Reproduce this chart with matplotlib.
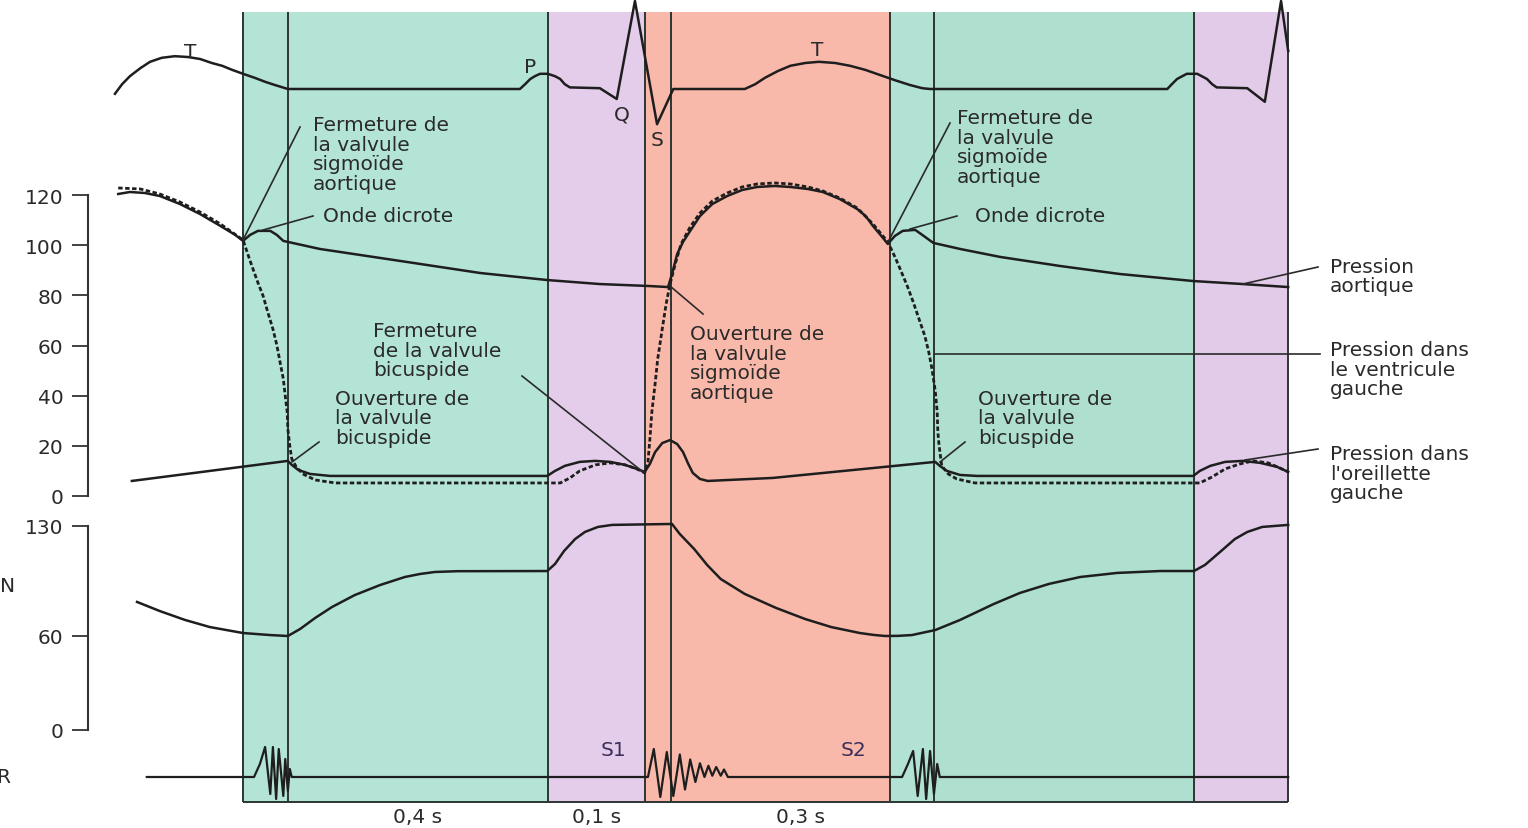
import numpy as np
import matplotlib.pyplot as plt

W, H, DPI = 1528, 829, 100
PX_PER_S = 650.0      # horizontal scale of the time axis
T0_PX = 243.0         # where t = 0 sits

# cardiac phases (s) and their fill colours
phase_edges = [0.0, 0.069, 0.469, 0.618, 0.658, 0.995, 1.063, 1.463, 1.608]
phase_colors = ["#b4e4d6", "#b4e4d6", "#e4cdea", "#f9b9aa", "#f9b9aa",
                "#b1e2d3", "#aedfcf", "#e2cbe9"]

# ECG (mV)
ecg_t = [-0.197, -0.186, -0.174, -0.158, -0.143, -0.125, -0.105, -0.085, -0.066,
         -0.048, -0.032, -0.017, 0.0, 0.018, 0.034, 0.049, 0.065, 0.069,
         0.426, 0.434, 0.442, 0.449, 0.457, 0.469, 0.480, 0.488, 0.495, 0.503,
         0.549, 0.575, 0.603, 0.637, 0.662,
         0.772, 0.788, 0.803, 0.823, 0.842, 0.865, 0.886, 0.911, 0.934, 0.957,
         0.980, 1.003, 1.026, 1.045, 1.057,
         1.422, 1.429, 1.437, 1.445, 1.452, 1.468, 1.475, 1.483, 1.491, 1.498,
         1.545, 1.572, 1.597, 1.608]
ecg_mv = [-0.06, 0.06, 0.16, 0.26, 0.34, 0.39, 0.41, 0.40, 0.375,
          0.325, 0.29, 0.24, 0.19, 0.14, 0.09, 0.05, 0.01, 0.0,
          0.0, 0.06, 0.125, 0.16, 0.19, 0.19, 0.16, 0.125, 0.06, 0.02,
          0.01, -0.125, 1.1, -0.44, 0.0,
          0.0, 0.06, 0.14, 0.225, 0.29, 0.325, 0.34, 0.325, 0.29, 0.24,
          0.175, 0.11, 0.05, 0.01, 0.0,
          0.0, 0.06, 0.125, 0.16, 0.19, 0.19, 0.16, 0.125, 0.06, 0.02,
          0.01, -0.16, 1.1, 0.475]

# aortic pressure (mmHg)
aorta_t = [-0.192, -0.174, -0.151, -0.128, -0.097, -0.066, -0.035, -0.012, 0.0,
           0.011, 0.023, 0.042, 0.052, 0.062, 0.118, 0.242, 0.365, 0.468, 0.549, 0.626, 0.654,
           0.660, 0.668, 0.677, 0.688, 0.703, 0.722, 0.745, 0.768, 0.791, 0.818, 0.842,
           0.869, 0.892, 0.918, 0.945, 0.958, 0.969, 0.982, 0.992,
           1.003, 1.015, 1.034, 1.045, 1.062, 1.103, 1.165, 1.257, 1.349, 1.462, 1.538, 1.608]
aorta_p = [120.4, 121.2, 120.8, 119.6, 116.4, 112.4, 107.7, 104.1, 101.7,
           104.1, 105.7, 105.7, 104.1, 101.7, 98.5, 93.7, 88.9, 86.1, 84.5, 83.7, 83.3,
           88.5, 96.5, 101.3, 105.7, 111.6, 116.4, 119.6, 122.0, 123.2, 123.6, 123.2,
           122.4, 121.2, 118.4, 114.4, 111.6, 107.7, 103.7, 100.5,
           103.7, 105.7, 106.1, 104.1, 100.9, 98.5, 95.3, 91.7, 88.5, 85.7, 84.5, 83.3]

# left ventricular pressure (mmHg)
lv_t = [-0.192, -0.158, -0.128, -0.097, -0.066, -0.035, 0.0,
        0.011, 0.022, 0.031, 0.038, 0.046, 0.052, 0.057, 0.062, 0.065, 0.068, 0.069,
        0.072, 0.075, 0.082, 0.092, 0.111, 0.142, 0.488, 0.503, 0.518, 0.542, 0.565,
        0.588, 0.606, 0.618, 0.623, 0.626, 0.629, 0.634, 0.638, 0.645, 0.651, 0.657,
        0.665, 0.674, 0.688, 0.703, 0.722, 0.745, 0.768, 0.791, 0.818, 0.842, 0.869,
        0.892, 0.918, 0.945, 0.969, 0.992, 1.003, 1.011, 1.022, 1.031, 1.040, 1.049,
        1.055, 1.060, 1.065, 1.068, 1.069, 1.071, 1.075, 1.085, 1.098, 1.126, 1.472,
        1.491, 1.511, 1.534, 1.554, 1.577, 1.595, 1.608]
lv_p = [122.8, 122.4, 120.4, 117.2, 113.2, 108.5, 102.1,
        93.7, 85.7, 79.7, 73.4, 66.6, 60.2, 53.4, 46.7, 39.9, 33.5, 26.7,
        19.9, 14.8, 11.6, 8.8, 6.4, 5.2, 5.2, 7.2, 10.0, 12.4, 13.2,
        12.4, 10.8, 9.2, 13.6, 22.7, 33.5, 44.7, 54.6, 66.6, 76.6, 84.5,
        92.5, 100.5, 107.3, 112.8, 117.6, 120.8, 123.2, 124.4, 124.8, 124.4, 123.2,
        121.6, 118.8, 114.8, 108.5, 101.3, 95.3, 90.5, 83.7, 77.4, 70.6, 63.8,
        57.4, 50.6, 41.9, 33.5, 25.5, 19.9, 12.0, 8.8, 6.8, 5.2, 5.2,
        7.6, 10.8, 12.8, 14.0, 13.2, 11.2, 9.6]

# left atrial pressure (mmHg)
la_t = [-0.171, 0.069, 0.075, 0.085, 0.103, 0.134, 0.468, 0.480, 0.495, 0.518, 0.542,
        0.565, 0.588, 0.606, 0.618, 0.626, 0.634, 0.645, 0.657, 0.668, 0.677, 0.685,
        0.692, 0.703, 0.715, 0.815, 1.065, 1.072, 1.083, 1.103, 1.129, 1.462, 1.472,
        1.488, 1.511, 1.538, 1.565, 1.591, 1.608]
la_p = [6.0, 14.0, 12.4, 10.4, 8.8, 8.0, 8.0, 10.0, 12.0, 13.6, 14.0,
        13.6, 12.4, 10.8, 9.6, 12.8, 17.5, 21.1, 22.3, 20.7, 17.5, 12.8,
        9.2, 6.8, 6.0, 7.2, 13.6, 12.0, 10.0, 8.4, 8.0, 8.0, 10.0,
        12.0, 13.6, 14.0, 13.2, 11.6, 9.6]

# left ventricular volume (mL)
vol_t = [-0.163, -0.128, -0.089, -0.051, 0.0, 0.042, 0.069, 0.088, 0.111, 0.137, 0.172,
         0.211, 0.249, 0.272, 0.295, 0.330, 0.468, 0.480, 0.494, 0.511, 0.526, 0.546,
         0.568, 0.660, 0.672, 0.694, 0.714, 0.735, 0.772, 0.820, 0.865, 0.905, 0.949,
         0.970, 0.988, 1.008, 1.029, 1.065, 1.103, 1.155, 1.195, 1.240, 1.288, 1.345,
         1.411, 1.463, 1.480, 1.503, 1.526, 1.545, 1.568, 1.608]
vol_ml = [81.6, 75.8, 70.1, 65.6, 61.8, 60.5, 59.9, 64.4, 71.4, 78.4, 86.0,
          92.4, 97.5, 99.4, 100.7, 101.2, 101.3, 105.8, 114.1, 121.7, 126.2, 129.4,
          130.7, 131.3, 124.9, 115.4, 105.2, 96.2, 86.7, 77.8, 70.7, 65.6, 61.8,
          60.6, 59.9, 60.0, 60.5, 63.7, 70.1, 80.3, 87.3, 93.1, 97.5, 100.1,
          101.3, 101.3, 105.2, 113.4, 121.7, 126.2, 129.4, 130.7]

# phonocardiogram (arbitrary units)
pcg_t = [-0.148, 0.017, 0.026, 0.034, 0.042, 0.046, 0.051, 0.055, 0.062, 0.065, 0.069,
         0.072, 0.075,
         0.623, 0.632, 0.642, 0.652, 0.662, 0.672, 0.680, 0.688, 0.696, 0.703, 0.710,
         0.716, 0.722, 0.728, 0.735, 0.740, 0.746,
         1.014, 1.023, 1.031, 1.038, 1.046, 1.051, 1.057, 1.063, 1.068, 1.072, 1.608]
pcg_a = [0.0, 0.0, 0.52, 1.2, -0.68, 1.2, -0.88, 1.12, -0.76, 0.72, -0.56,
         0.32, 0.0,
         0.0, 1.12, -0.8, 1.0, -0.76, 0.9, -0.5, 0.7, -0.2, 0.55, 0.0,
         0.45, 0.05, 0.4, 0.05, 0.3, 0.0,
         0.0, 0.52, 1.04, -0.76, 1.12, -0.88, 1.04, -0.68, 0.52, 0.0, 0.0]

pressure_ticks = [0, 20, 40, 60, 80, 100, 120]
volume_ticks = [0, 60, 130]

INK = "#1e1e1e"
TXT = "#2a2a2a"
FS = 14.5

fig = plt.figure(figsize=(W / DPI, H / DPI), dpi=DPI)
fig.patch.set_facecolor("white")


def overlay(lo_px, lo_val, hi_px, hi_val):
    # full-figure transparent axes: lo_val lands on row lo_px, hi_val on row hi_px
    ax = fig.add_axes([0, 0, 1, 1])
    ax.set_xlim(-T0_PX / PX_PER_S, (W - T0_PX) / PX_PER_S)
    k = (lo_px - hi_px) / (hi_val - lo_val)
    ax.set_ylim(lo_val - (H - lo_px) / k, hi_val + hi_px / k)
    ax.patch.set_alpha(0)
    ax.axis("off")
    return ax


# phase bands
ax_bg = overlay(H, H, 0, 0)
top_px, bot_px = 13, 803
for t0, t1, c in zip(phase_edges[:-1], phase_edges[1:], phase_colors):
    ax_bg.axvspan(t0, t1, ymin=(H - bot_px) / H, ymax=(H - top_px) / H, color=c, lw=0)
ax_bg.vlines(phase_edges, top_px, bot_px, color="#2c3533", lw=1.4)
ax_bg.hlines(bot_px, phase_edges[0], phase_edges[-1], color="#2c3533", lw=1.4)

# ECG
ax_ecg = overlay(90, 0.0, 10, 1.0)
ax_ecg.plot(ecg_t, ecg_mv, color=INK, lw=1.8, solid_joinstyle="round")

# pressures
ax_p = overlay(497, 0.0, 196, 120.0)
ax_p.plot(lv_t, lv_p, color=INK, lw=2.0, linestyle=(0, (1.6, 0.9)))
ax_p.plot(aorta_t, aorta_p, color=INK, lw=1.8, solid_joinstyle="round")
ax_p.plot(la_t, la_p, color=INK, lw=1.8, solid_joinstyle="round")

# volume
ax_v = overlay(731, 0.0, 527, 130.0)
ax_v.plot(vol_t, vol_ml, color=INK, lw=1.8, solid_joinstyle="round")

# heart sounds
ax_s = overlay(778, 0.0, 753, 1.0)
ax_s.plot(pcg_t, pcg_a, color=INK, lw=1.6)


def scale_bar(top_px, bottom_px, lo, hi, ticks):
    ax = fig.add_axes([88 / W, (H - bottom_px) / H, 0.0001, (bottom_px - top_px) / H])
    ax.set_ylim(lo, hi)
    ax.set_yticks(ticks)
    ax.set_xticks([])
    for side in ("top", "right", "bottom"):
        ax.spines[side].set_visible(False)
    ax.spines["left"].set_linewidth(1.5)
    ax.spines["left"].set_color("#333333")
    ax.tick_params(axis="y", direction="out", length=11.5, width=1.3, pad=6,
                   labelsize=FS, colors="#333333", labelcolor=TXT)
    ax.patch.set_alpha(0)
    return ax


scale_bar(196, 497, 0, 120, pressure_ticks)
scale_bar(527, 731, 0, 130, volume_ticks)

# labels and leader lines (pixel layout)
ax_txt = fig.add_axes([0, 0, 1, 1])
ax_txt.set_xlim(0, W)
ax_txt.set_ylim(H, 0)
ax_txt.patch.set_alpha(0)
ax_txt.axis("off")

notes = [
    (313, 155, "Fermeture de\nla valvule\nsigmoïde\naortique"),
    (323, 216, "Onde dicrote"),
    (373, 351, "Fermeture\nde la valvule\nbicuspide"),
    (335, 419, "Ouverture de\nla valvule\nbicuspide"),
    (690, 364, "Ouverture de\nla valvule\nsigmoïde\naortique"),
    (957, 148, "Fermeture de\nla valvule\nsigmoïde\naortique"),
    (975, 216, "Onde dicrote"),
    (978, 419, "Ouverture de\nla valvule\nbicuspide"),
    (1330, 277, "Pression\naortique"),
    (1330, 370, "Pression dans\nle ventricule\ngauche"),
    (1330, 474, "Pression dans\nl'oreillette\ngauche"),
]
for x, y, s in notes:
    ax_txt.text(x, y, s, ha="left", va="center", fontsize=FS, color=TXT,
                linespacing=1.04, family="DejaVu Sans")

leaders = [
    ((300, 128), (243, 241)),
    ((313, 217), (263, 231)),
    ((522, 377), (643, 473)),
    ((319, 443), (292, 463)),
    ((703, 315), (670, 287)),
    ((950, 124), (888, 243)),
    ((957, 217), (910, 230)),
    ((965, 443), (940, 463)),
    ((1318, 268), (1243, 285)),
    ((1320, 355), (935, 355)),
    ((1318, 450), (1245, 461)),
]
for (x0, y0), (x1, y1) in leaders:
    ax_txt.plot([x0, x1], [y0, y1], color="#2a2a2a", lw=1.2)

for x, y, s in [(190, 52, "T"), (530, 67, "P"), (622, 115, "Q"), (657, 140, "S"),
                (817, 50, "T")]:
    ax_txt.text(x, y, s, ha="center", va="center", fontsize=FS, color=TXT)

for x, s in [(613, "S1"), (853, "S2")]:
    ax_txt.text(x, 750, s, ha="center", va="center", fontsize=FS, color="#3d2f5c")

for x, s in [(418, "0,4 s"), (597, "0,1 s"), (800, "0,3 s")]:
    ax_txt.text(x, 818, s, ha="center", va="center", fontsize=FS, color=TXT)

# row captions, cut by the left border
ax_txt.text(15, 587, "N", ha="right", va="center", fontsize=FS, color=TXT)
ax_txt.text(11, 778, "R", ha="right", va="center", fontsize=FS, color=TXT)

fig.savefig("out.png", dpi=DPI, facecolor="white")
